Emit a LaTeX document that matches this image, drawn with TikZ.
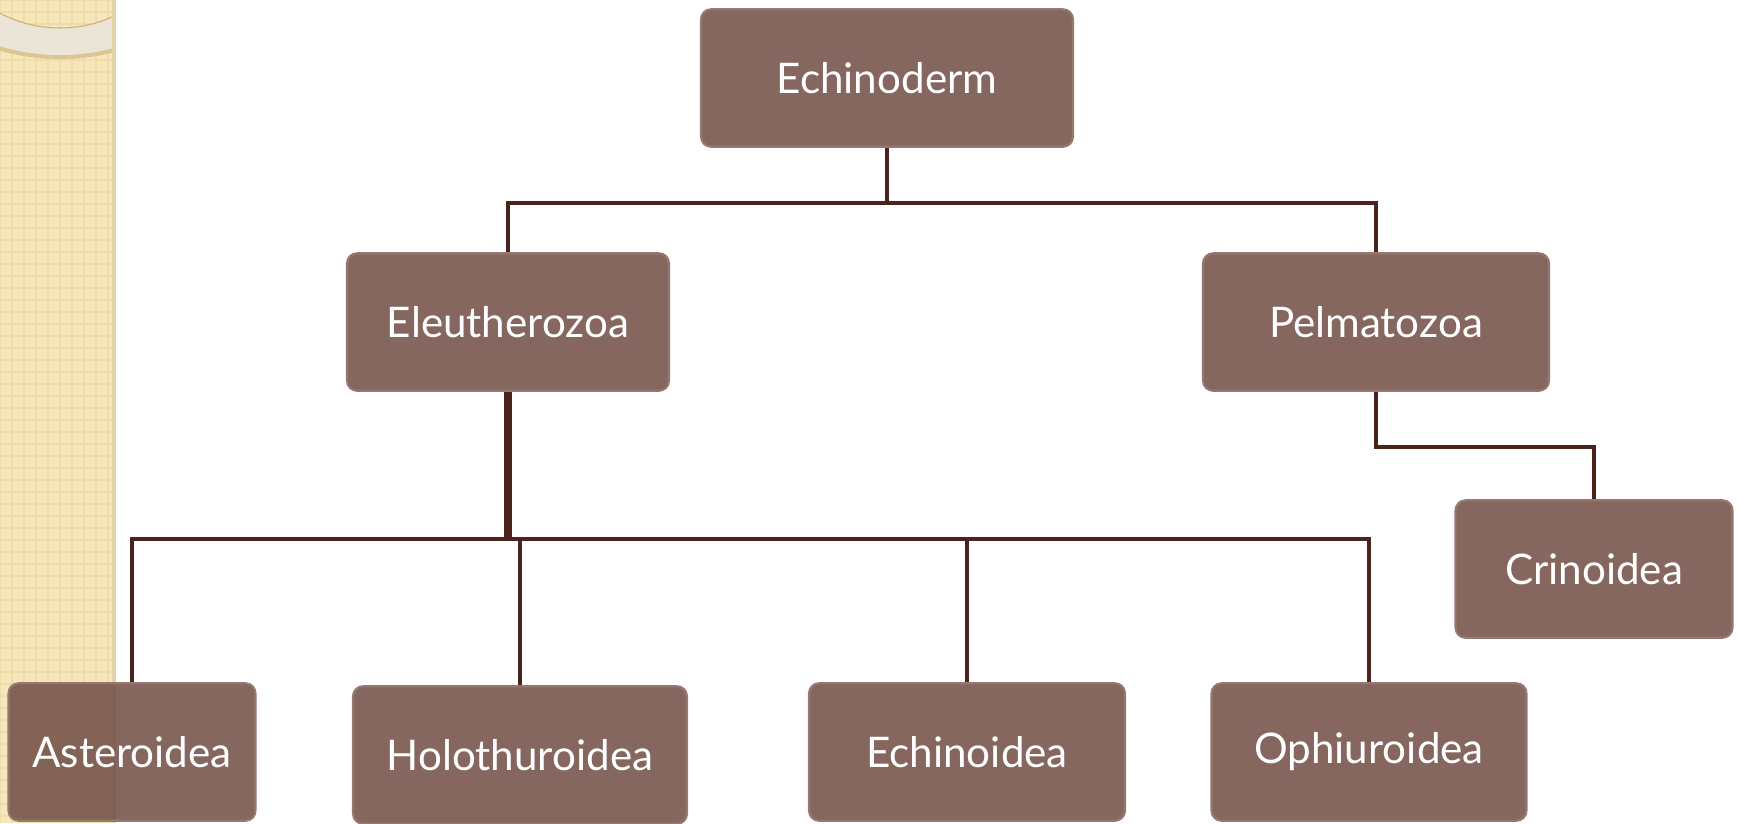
\documentclass[tikz,border=0pt]{standalone}
\usepackage{fontspec}
\setmainfont{Lato}
\usepackage{tikz}
\usetikzlibrary{positioning}
\definecolor{ecbox}{HTML}{745249}
\definecolor{ecedge}{HTML}{957870}
\definecolor{ecline}{HTML}{4A241C}
\definecolor{ecbeige}{HTML}{F6E6B9}
\definecolor{ecgrid}{HTML}{EEDDAA}
\definecolor{ecring}{HTML}{EAE5D6}
\definecolor{ecgold}{HTML}{C9B27A}

\begin{document}
\begin{tikzpicture}[x=0.02cm, y=-0.02cm,
    every node/.style={font=\fontsize{24}{28}\selectfont, text=white},
    taxon/.style={draw=ecedge, line width=1.2pt, fill=ecbox, fill opacity=0.88, text opacity=1, rounded corners=0.2cm, minimum height=2.75cm},
    link/.style={draw=ecline, line width=2.2pt},
    trunk/.style={draw=ecline, line width=4.2pt}]
      \useasboundingbox (0,0) rectangle (1740,823);
      % side strip
      \fill[ecbeige] (0,0) rectangle (115,823);
      \begin{scope}
        \clip (0,0) rectangle (115,823);
        \draw[ecgrid, line width=1pt, step=0.24cm] (0,0) grid (115,823);
        \draw[ecgold!60!ecbeige, line width=2.5pt] (60,-153) circle[radius=4.2cm];
        \fill[ecring, even odd rule] (60,-155) circle[radius=4.2cm] (60,-101) circle[radius=2.58cm];
        \draw[ecgold, line width=0.6pt] (60,-101) circle[radius=2.58cm];
      \end{scope}
      \draw[ecgrid!70!black!25!ecbeige, line width=2pt] (114,0) -- (114,823);
      % boxes
      \node[taxon, minimum width=7.44cm] (echi) at (887,78) {Echinoderm};
      \node[taxon, minimum width=6.44cm] (eleu) at (508,322) {Eleutherozoa};
      \node[taxon, minimum width=6.92cm] (pelm) at (1376,322) {Pelmatozoa};
      \node[taxon, minimum width=5.54cm] (crin) at (1594,569) {Crinoidea};
      \node[taxon, minimum width=4.94cm] (aste) at (132,752) {Asteroidea};
      \node[taxon, minimum width=6.68cm] (holo) at (520,755) {Holothuroidea};
      \node[taxon, minimum width=6.32cm] (echo) at (967,752) {Echinoidea};
      \node[taxon, minimum width=6.30cm] (ophi) at (1369,752) {Ophiuroidea};
      % connectors
      \draw[link] (echi.south) -- ++(0,55) coordinate (j1);
      \draw[link] (eleu.north) |- (j1) -| (pelm.north);
      \draw[trunk] (eleu.south) -- ++(0,147) coordinate (j2);
      \draw[link] (aste.north) |- (j2) -| (ophi.north);
      \draw[link] (j2) -| (holo.north);
      \draw[link] (j2) -| (echo.north);
      \draw[link] (pelm.south) -- ++(0,55) -| (crin.north);
    \end{tikzpicture}
\end{document}
